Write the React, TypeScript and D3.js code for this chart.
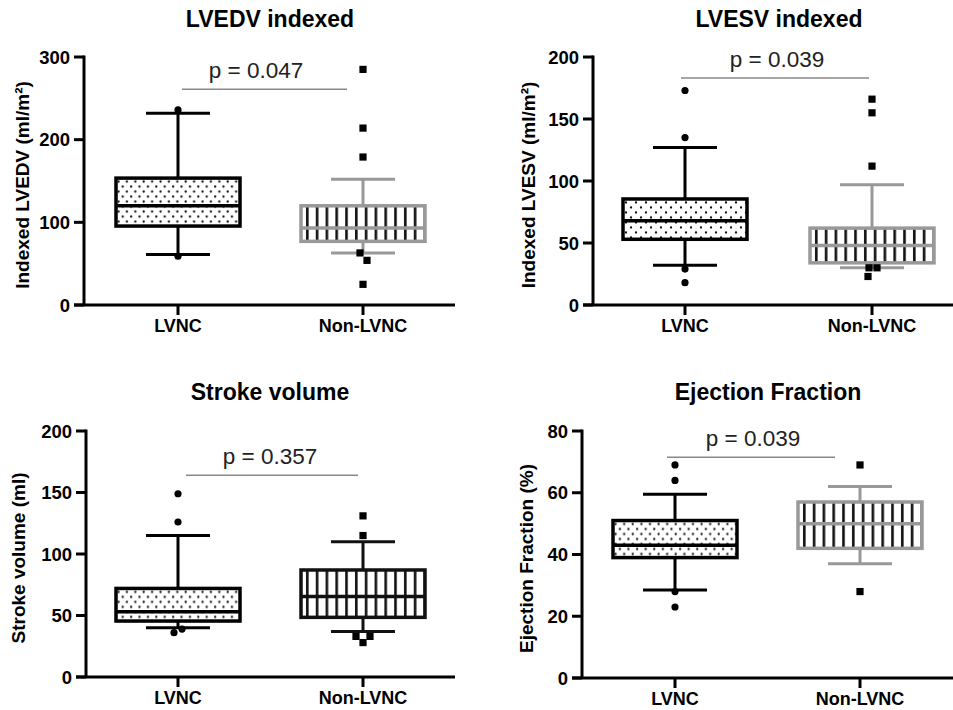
import React from "react";
import * as d3 from "d3";

// ---------- data ----------
const groups = ["LVNC", "Non-LVNC"];
const titles = ["LVEDV indexed", "LVESV indexed", "Stroke volume", "Ejection Fraction"];
const yLabels = ["Indexed LVEDV (ml/m²)", "Indexed LVESV (ml/m²)", "Stroke volume (ml)", "Ejection Fraction (%)"];
const yMax = [300, 200, 200, 80];
const yStep = [100, 50, 50, 20];
// [whisker low, q1, median, q3, whisker high]
const lvncBox = [
  [61, 95.5, 120, 153.5, 232],
  [32, 53, 68, 85.5, 127],
  [40, 45.5, 53, 72, 115],
  [28.5, 39, 43, 51, 59.5],
];
const nonBox = [
  [63, 77, 93, 120, 152],
  [30, 34, 48, 62, 97],
  [37, 48.5, 65.5, 87, 110],
  [37, 42, 50, 57, 62],
];
const lvncOutliers = [
  [236, 59],
  [173, 135, 29, 18],
  [149, 126, 39, 36],
  [69, 64, 28, 23],
];
const nonOutliers = [
  [285, 214, 179, 63, 54, 25],
  [166, 155, 112, 30, 30, 23],
  [131, 115, 33, 33, 28],
  [69, 28],
];
const pValues = ["p = 0.047", "p = 0.039", "p = 0.357", "p = 0.039"];
const pLineLevel = [261, 183, 164, 71.5];

// ---------- layout / style ----------
const layouts = [
  { ax: 84, top: 57, bot: 305, right: 455, c0: 178, c1: 363, titleX: 270, titleY: 27, ylabX: 22, pl: [182, 347], pX: 256, dotW: 8.4 },
  { ax: 593, top: 57, bot: 305, right: 953, c0: 685, c1: 872, titleX: 779, titleY: 27, ylabX: 528, pl: [681, 869], pX: 777, dotW: 10 },
  { ax: 86, top: 431, bot: 677, right: 455, c0: 178, c1: 363, titleX: 270, titleY: 400, ylabX: 18, pl: [186, 358], pX: 270, dotW: 8.4 },
  { ax: 582, top: 431, bot: 678, right: 953, c0: 675, c1: 860, titleX: 768, titleY: 400, ylabX: 526, pl: [667, 835], pX: 753, dotW: 8.6 },
];
const nonColors = ["#999", "#999", "#111", "#999"];
const lvncJitter = [[0, 0], [0, 0, 0, 0], [0, 0, 4, -4], [0, 0, 0, 0]];
const nonJitter = [[0, 0, 0, -3, 4, 0], [0, 0, 0, -3, 5, -4], [0, 0, -7, 7, 0], [0, 0]];
const FONT = "'Liberation Sans', Arial, Helvetica, sans-serif";
const BOX_HALF = 62;
const CAP_HALF = 32;

function Panel({ i }: { i: number }) {
  const L = layouts[i];
  const y = d3.scaleLinear().domain([0, yMax[i]]).range([L.bot, L.top]);
  const x = d3.scalePoint<string>().domain(groups).range([L.c0, L.c1]).padding(0);
  const ticks = d3.range(0, yMax[i] + 0.001, yStep[i]);

  const renderBox = (g: string, s: number[], color: string, fillId: string) => {
    const cx = x(g)!;
    const [wl, q1, md, q3, wh] = s;
    return (
      <g>
        <line x1={cx} x2={cx} y1={y(q3)} y2={y(wh)} stroke={color} strokeWidth={3} />
        <line x1={cx} x2={cx} y1={y(q1)} y2={y(wl)} stroke={color} strokeWidth={3} />
        <line x1={cx - CAP_HALF} x2={cx + CAP_HALF} y1={y(wh)} y2={y(wh)} stroke={color} strokeWidth={3} />
        <line x1={cx - CAP_HALF} x2={cx + CAP_HALF} y1={y(wl)} y2={y(wl)} stroke={color} strokeWidth={3} />
        <rect x={cx - BOX_HALF} y={y(q3)} width={BOX_HALF * 2} height={y(q1) - y(q3)} fill="#fff" />
        <rect x={cx - BOX_HALF} y={y(q3)} width={BOX_HALF * 2} height={y(q1) - y(q3)} fill={`url(#${fillId})`} stroke={color} strokeWidth={3.5} />
        <line x1={cx - BOX_HALF} x2={cx + BOX_HALF} y1={y(md)} y2={y(md)} stroke={color} strokeWidth={3.5} />
      </g>
    );
  };

  const c0 = x(groups[0])!;
  const c1 = x(groups[1])!;
  const nonColor = nonColors[i];
  const ymid = (L.top + L.bot) / 2 + 4;
  const dw = L.dotW;

  return (
    <g fontFamily={FONT}>
      <defs>
        <pattern id={`dots${i}`} patternUnits="userSpaceOnUse" width={dw} height={10} x={c0 - BOX_HALF} y={y(lvncBox[i][3])}>
          <circle cx={dw * 0.3} cy={3.5} r={1.15} fill="#111" />
          <circle cx={dw * 0.8} cy={8.5} r={1.15} fill="#111" />
        </pattern>
        <pattern id={`bars${i}`} patternUnits="userSpaceOnUse" width={9.8} height={10} x={c1 - BOX_HALF + 3} y={0}>
          <rect x={2} y={0} width={2.6} height={10} fill="#111" />
        </pattern>
      </defs>
      {/* title */}
      <text x={L.titleX} y={L.titleY} textAnchor="middle" fontWeight="bold" fontSize={23}>{titles[i]}</text>
      {/* y label */}
      <text transform={`translate(${L.ylabX},${ymid}) rotate(-90)`} textAnchor="middle" dominantBaseline="central" fontWeight="bold" fontSize={19}>{yLabels[i]}</text>
      {/* axes */}
      <line x1={L.ax} x2={L.ax} y1={L.top - 1.5} y2={L.bot} stroke="#000" strokeWidth={3} />
      <line x1={L.ax - 10} x2={L.right} y1={L.bot} y2={L.bot} stroke="#000" strokeWidth={3} />
      {ticks.map((t) => (
        <g key={t}>
          <line x1={L.ax - 10} x2={L.ax} y1={y(t)} y2={y(t)} stroke="#000" strokeWidth={3} />
          <text x={L.ax - 14} y={y(t)} textAnchor="end" dominantBaseline="central" fontWeight="bold" fontSize={18.5}>{t}</text>
        </g>
      ))}
      {groups.map((g) => (
        <g key={g}>
          <line x1={x(g)!} x2={x(g)!} y1={L.bot} y2={L.bot + 10} stroke="#000" strokeWidth={3} />
          <text x={x(g)!} y={L.bot + 27} textAnchor="middle" fontWeight="bold" fontSize={18}>{g}</text>
        </g>
      ))}
      {/* p-value */}
      <line x1={L.pl[0]} x2={L.pl[1]} y1={y(pLineLevel[i])} y2={y(pLineLevel[i])} stroke="#888" strokeWidth={1.5} />
      <text x={L.pX} y={y(pLineLevel[i]) - 11} textAnchor="middle" fontSize={22.5} fill="#222">{pValues[i]}</text>
      {/* boxes */}
      {renderBox(groups[0], lvncBox[i], "#000", `dots${i}`)}
      {renderBox(groups[1], nonBox[i], nonColor, `bars${i}`)}
      {/* outliers */}
      {lvncOutliers[i].map((v, k) => (
        <circle key={k} cx={c0 + lvncJitter[i][k]} cy={y(v)} r={3.6} fill="#000" />
      ))}
      {nonOutliers[i].map((v, k) => (
        <rect key={k} x={c1 + nonJitter[i][k] - 3.6} y={y(v) - 3.6} width={7.2} height={7.2} fill="#000" />
      ))}
    </g>
  );
}

export default function App() {
  return (
    <svg width={953} height={710} style={{ position: "absolute", left: 0, top: 0, background: "#fff" }}>
      <rect width={953} height={710} fill="#fff" />
      {[0, 1, 2, 3].map((i) => (
        <Panel key={i} i={i} />
      ))}
    </svg>
  );
}
